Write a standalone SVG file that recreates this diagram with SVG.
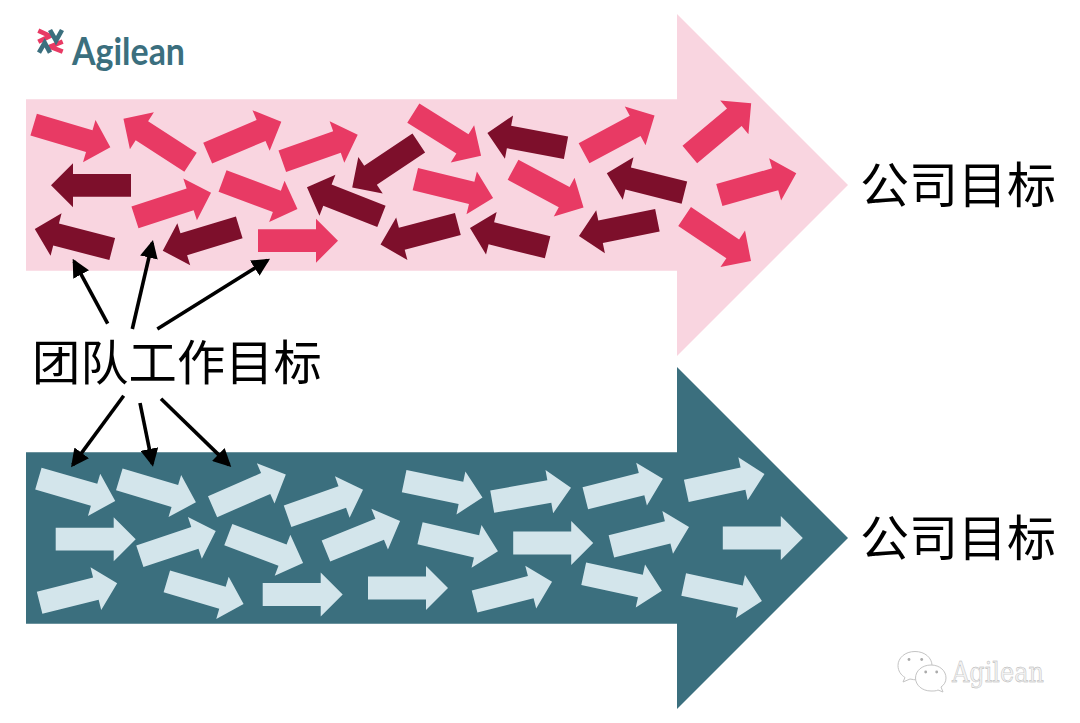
<svg xmlns="http://www.w3.org/2000/svg" width="1080" height="723" viewBox="0 0 1080 723">
<style>
.p{fill:#e83a64}.d{fill:#7d0f2b}.l{fill:#d3e5eb}
.t{font-family:"Noto Sans CJK SC","Noto Sans",sans-serif;font-size:49px;fill:#000}
.c line{stroke:#000;stroke-width:3.6;marker-end:url(#h)}
.lg polyline{fill:none;stroke-width:4.6}
.wb{fill:#fff;stroke:#c4c4c4;stroke-width:1}
.we{fill:#aaa}
</style>
<defs>
<path id="a" d="M-40,-11.4H18V-22L40,0L18,22V11.400H-40Z"/>
<marker id="h" markerUnits="userSpaceOnUse" markerWidth="18" markerHeight="18" viewBox="0 0 18 18" refX="15" refY="9" orient="auto"><path d="M0,0L18,9L0,18Z" fill="#000"/></marker>
</defs>
<rect width="1080" height="723" fill="#fff"/>
<g id="flow-pink"><path d="M26,99.3H677V14L848,185L677,356V270.7H26Z" fill="#f9d5e0"/></g>
<g id="flow-teal"><path d="M26,452.3H677V367L848,538L677,709V623.7H26Z" fill="#3b6f7e"/></g>
<g id="logo" class="lg">
<polyline points="38.3,30.7 50,36 38.3,41.7" stroke="#e83a64"/>
<polyline points="62.7,41.7 50,46.7 62.7,51.7" stroke="#e83a64"/>
<polyline points="50,30 56,40.7 62,30" stroke="#3b6f7e"/>
<polyline points="39,52.7 44.7,42.7 50,52.7" stroke="#3b6f7e"/>
<text x="72" y="65" font-family="Lato,'Noto Sans',sans-serif" font-weight="700" font-size="38" fill="#3b6f7e" textLength="113" lengthAdjust="spacingAndGlyphs">Agilean</text>
</g>
<g id="pink-arrows">
<g id="p1" class="p" transform="translate(72,136) rotate(16.5)"><use href="#a"/></g>
<g id="p2" class="p" transform="translate(157,140.5) rotate(213)"><use href="#a"/></g>
<g id="p3" class="p" transform="translate(244.5,137.5) rotate(-23)"><use href="#a"/></g>
<g id="p4" class="p" transform="translate(320,148) rotate(-19.5)"><use href="#a"/></g>
<g id="p5" class="d" transform="translate(91,185.3) rotate(180)"><use href="#a"/></g>
<g id="p6" class="p" transform="translate(173,205) rotate(-18)"><use href="#a"/></g>
<g id="p7" class="p" transform="translate(260,195) rotate(20.5)"><use href="#a"/></g>
<g id="p8" class="d" transform="translate(73.5,239) rotate(194.5)"><use href="#a"/></g>
<g id="p9" class="d" transform="translate(201,239) rotate(163)"><use href="#a"/></g>
<g id="p10" class="p" transform="translate(298,240.7)"><use href="#a"/></g>
<g id="p11" class="d" transform="translate(344.2,201.8) rotate(201.4)"><use href="#a"/></g>
<g id="p12" class="d" transform="translate(385.5,165.2) rotate(146.3)"><use href="#a"/></g>
<g id="p13" class="p" transform="translate(447.2,134.4) rotate(32.1)"><use href="#a"/></g>
<g id="p14" class="d" transform="translate(526.7,140.4) rotate(190.7)"><use href="#a"/></g>
<g id="p15" class="p" transform="translate(454.2,188.6) rotate(13.7)"><use href="#a"/></g>
<g id="p16" class="d" transform="translate(419.2,234.2) rotate(165.2)"><use href="#a"/></g>
<g id="p17" class="d" transform="translate(508.8,237.6) rotate(194)"><use href="#a"/></g>
<g id="p18" class="p" transform="translate(548.3,188.6) rotate(28.2)"><use href="#a"/></g>
<g id="p19" class="p" transform="translate(619.3,134.4) rotate(-28.2)"><use href="#a"/></g>
<g id="p20" class="p" transform="translate(720.5,128.8) rotate(-39.9)"><use href="#a"/></g>
<g id="p21" class="d" transform="translate(645.6,182.9) rotate(194.1)"><use href="#a"/></g>
<g id="p22" class="p" transform="translate(757.8,184.2) rotate(-15.8)"><use href="#a"/></g>
<g id="p23" class="d" transform="translate(618.2,228.2) rotate(168.6)"><use href="#a"/></g>
<g id="p24" class="p" transform="translate(717.8,238.8) rotate(33.9)"><use href="#a"/></g>
</g>
<g id="teal-arrows" class="l">
<g id="b1" transform="translate(76.8,489.8) rotate(16.2)"><use href="#a"/></g>
<g id="b2" transform="translate(157.6,490.8) rotate(16.7)"><use href="#a"/></g>
<g id="b3" transform="translate(249.2,490.7) rotate(-23.7)"><use href="#a"/></g>
<g id="b4" transform="translate(95.7,539.2)"><use href="#a"/></g>
<g id="b5" transform="translate(177.8,543.6) rotate(-18.4)"><use href="#a"/></g>
<g id="b6" transform="translate(265.7,548.8) rotate(20.8)"><use href="#a"/></g>
<g id="b7" transform="translate(78.4,593) rotate(-14.1)"><use href="#a"/></g>
<g id="b8" transform="translate(205.2,592.7) rotate(16.4)"><use href="#a"/></g>
<g id="b9" transform="translate(302.7,594.5)"><use href="#a"/></g>
<g id="b10" transform="translate(325.3,503) rotate(-19.4)"><use href="#a"/></g>
<g id="b11" transform="translate(363,536) rotate(-22.1)"><use href="#a"/></g>
<g id="b12" transform="translate(443.3,489.3) rotate(11.7)"><use href="#a"/></g>
<g id="b13" transform="translate(459,542.3) rotate(13.1)"><use href="#a"/></g>
<g id="b14" transform="translate(408,588)"><use href="#a"/></g>
<g id="b15" transform="translate(513.3,591.6) rotate(-14.4)"><use href="#a"/></g>
<g id="b16" transform="translate(531.6,494.7) rotate(-10)"><use href="#a"/></g>
<g id="b17" transform="translate(553.2,543)"><use href="#a"/></g>
<g id="b18" transform="translate(624.1,488.5) rotate(-14.1)"><use href="#a"/></g>
<g id="b19" transform="translate(725.4,482.5) rotate(-12.2)"><use href="#a"/></g>
<g id="b20" transform="translate(650.2,536.7) rotate(-14)"><use href="#a"/></g>
<g id="b21" transform="translate(762.8,538)"><use href="#a"/></g>
<g id="b22" transform="translate(622.8,582.2) rotate(12.2)"><use href="#a"/></g>
<g id="b23" transform="translate(722.8,592.8) rotate(12)"><use href="#a"/></g>
</g>
<g id="connectors" class="c">
<line x1="107.7" y1="323.7" x2="74.1" y2="261.3"/>
<line x1="132.3" y1="329" x2="152.3" y2="242.9"/>
<line x1="157.3" y1="329" x2="267.5" y2="260.3"/>
<line x1="123.7" y1="395.7" x2="72.8" y2="464.9"/>
<line x1="140" y1="403" x2="152.4" y2="463.8"/>
<line x1="161" y1="398.7" x2="229.1" y2="464.9"/>
</g>
<g id="team-label"><text class="t" x="32" y="380" style="font-size:48.300px">团队工作目标</text></g>
<g id="goal-1"><text class="t" x="860" y="203">公司目标</text></g>
<g id="goal-2"><text class="t" x="860" y="556">公司目标</text></g>
<g id="watermark">
<path class="wb" d="M915,651.5C905,651.5 898,658 898,665.5C898,671 901,675 905,677.5L903,682L910,679C915,680 918,680 920,680C928,680 932,672 932,665.5C932,658 925,651.5 915,651.5Z"/>
<circle class="we" cx="909" cy="659.5" r="1.4"/><circle class="we" cx="921.7" cy="659.5" r="1.4"/>
<path class="wb" d="M931,665C922,665 915.500,671 915.500,678C915.500,685 922,691 931,691C934,691 936,691 938,690L943,692L941,687C944,685 946,682 946,678C946,671 940,665 931,665Z"/>
<circle class="we" cx="925.700" cy="672" r="1.4"/><circle class="we" cx="936.700" cy="672" r="1.4"/>
<text x="952" y="682" font-family="'DejaVu Serif','Liberation Serif',serif" font-size="27" fill="#f2f2f2" stroke="#aeaeae" stroke-width="0.4" textLength="92" lengthAdjust="spacingAndGlyphs">Agilean</text>
</g>
</svg>
